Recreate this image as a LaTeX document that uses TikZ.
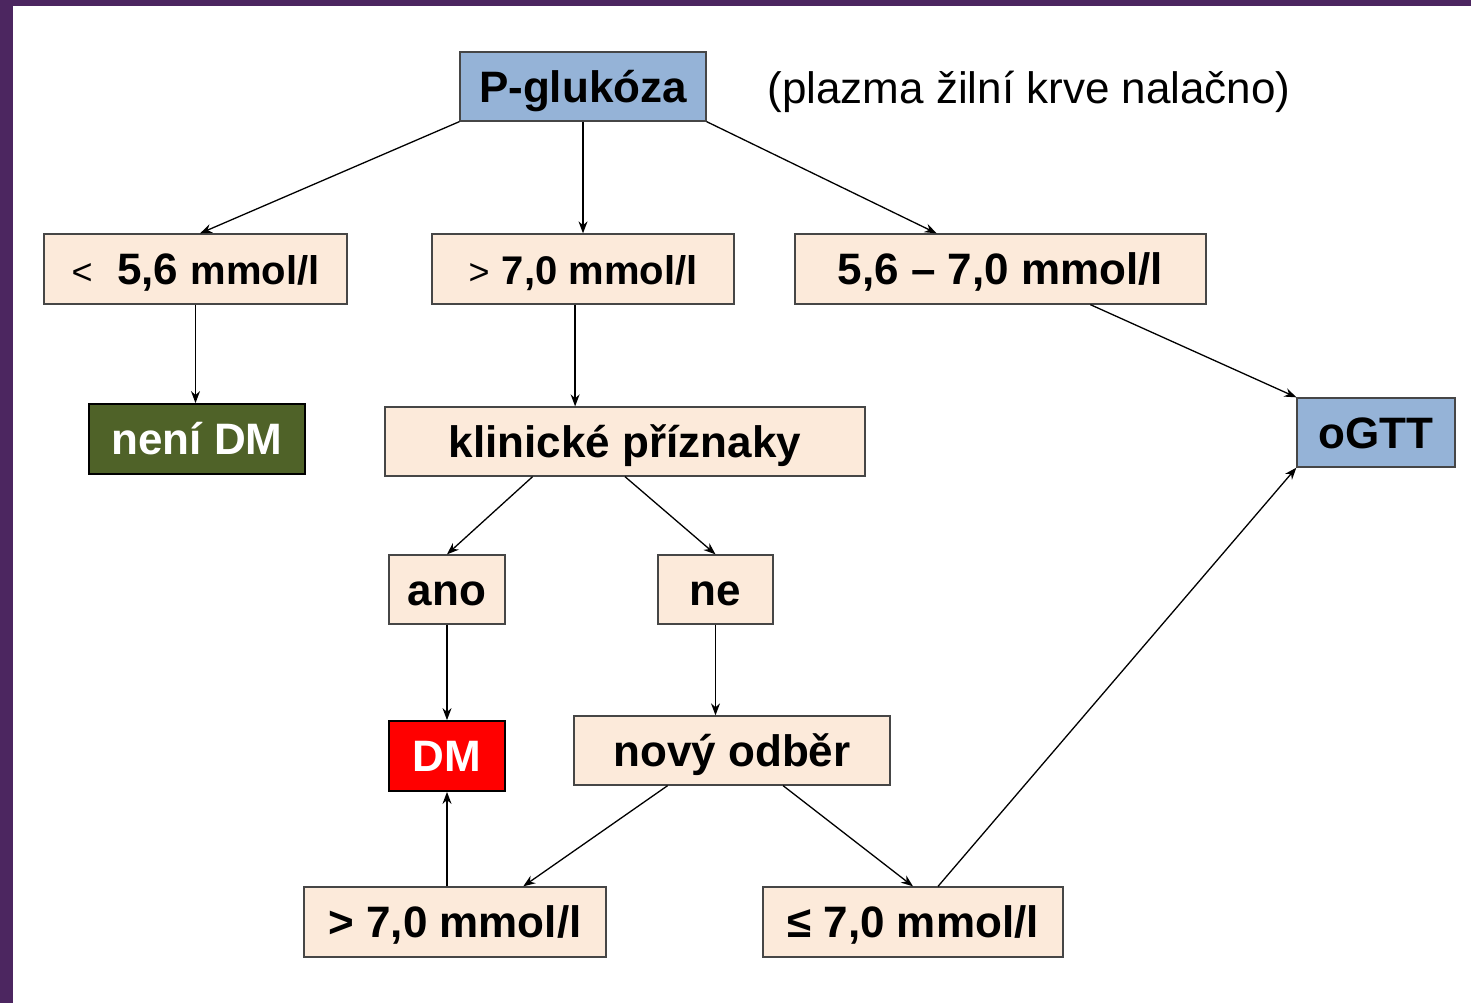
\documentclass[tikz,border=0pt]{standalone}
\usepackage{fontspec}
\setmainfont{Liberation Sans}
\usetikzlibrary{calc,arrows.meta}
\definecolor{peach}{RGB}{252,234,218}
\definecolor{bluebox}{RGB}{149,179,215}
\definecolor{greenbox}{RGB}{79,98,40}
\definecolor{redbox}{RGB}{255,0,0}
\definecolor{purpleband}{RGB}{76,38,96}
\definecolor{edge}{RGB}{70,70,70}
\newcommand{\fbig}{\fontsize{44}{50}\selectfont}
\newcommand{\fmid}{\fontsize{40}{46}\selectfont}
\newcommand{\fsml}{\fontsize{36}{42}\selectfont}
\begin{document}
\begin{tikzpicture}[x=1pt,y=-1pt,
  box/.style={draw=edge, line width=1.3pt, fill=peach, inner sep=0pt,
    text height=31.5pt, text depth=0pt,
    font=\fbig\bfseries, text=black, anchor=center},
  bluenode/.style={box, fill=bluebox},
  greennode/.style={box, fill=greenbox, draw=black, line width=1.8pt, text=white},
  rednode/.style={box, fill=redbox, draw=black, line width=1.8pt, text=white},
  conn/.style={draw=black, line width=1.3pt, -{Stealth[length=12pt,width=9pt]}}
]
% background and band
\fill[white] (0,0) rectangle (1471,1003);
\fill[purpleband] (0,0) rectangle (1471,6);
\fill[purpleband] (0,0) rectangle (13,1003);
\useasboundingbox (0,0) rectangle (1471,1003);

\node[bluenode, minimum width=246pt, minimum height=69pt] (pg) at (583,86.5) {P-glukóza};
\node[font=\fbig, anchor=center, text height=31.5pt, text depth=0pt, inner sep=0pt] (note) at (1029,88) {(plazma žilní krve nalačno)};

\node[box, minimum width=303pt, minimum height=70pt] (lt) at (195.5,269)
  {{\fsml\mdseries <}\ \ 5,6 {\fmid mmol/l}};
\node[box, minimum width=302pt, minimum height=70pt] (gt) at (583,269)
  {{\fsml\mdseries >} {\fmid 7,0 mmol/l}};
\node[box, minimum width=411pt, minimum height=70pt] (mid) at (1000.5,269)
  {5,6 – 7,0 mmol/l};

\node[greennode, minimum width=216pt, minimum height=70pt] (nodm) at (197,439) {není DM};
\node[box, minimum width=480pt, minimum height=69pt] (kp) at (625,441.5) {klinické příznaky};
\node[bluenode, minimum width=158pt, minimum height=69pt] (ogtt) at (1376,432.5) {oGTT};

\node[box, minimum width=116pt, minimum height=69pt] (ano) at (447,589.5) {ano};
\node[box, minimum width=115pt, minimum height=69pt] (ne) at (715.5,589.5) {ne};

\node[rednode, minimum width=116pt, minimum height=70pt] (dm) at (447,756) {DM};
\node[box, minimum width=316pt, minimum height=69pt] (novy) at (732,750.5) {nový odběr};

\node[box, minimum width=302pt, minimum height=70pt] (gt2) at (455,922) {> 7,0 mmol/l};
\node[box, minimum width=300pt, minimum height=70pt] (le) at (913,922) {≤ 7,0 mmol/l};

% connectors
\draw[conn] (pg.south west) -- ($(lt.north west)!0.515!(lt.north east)$);
\draw[conn] (pg.south) -- (pg.south |- gt.north);
\draw[conn] (pg.south east) -- ($(mid.north west)!0.345!(mid.north east)$);
\coordinate (ltb) at ($(lt.south west)!0.5!(lt.south east)$);
\draw[conn] (ltb) -- (ltb |- nodm.north);
\coordinate (gtb) at ($(gt.south west)!0.474!(gt.south east)$);
\draw[conn] (gtb) -- (gtb |- kp.north);
\draw[conn] ($(mid.south west)!0.718!(mid.south east)$) -- (ogtt.north west);
\draw[conn] ($(kp.south west)!0.308!(kp.south east)$) -- (ano.north);
\draw[conn] (kp.south) -- (ne.north);
\draw[conn] (ano.south) -- (dm.north);
\draw[conn] (ne.south) -- (ne.south |- novy.north);
\draw[conn] ($(novy.south west)!0.297!(novy.south east)$) -- ($(gt2.north west)!0.725!(gt2.north east)$);
\draw[conn] ($(novy.south west)!0.661!(novy.south east)$) -- (le.north);
\draw[conn] (dm.south |- gt2.north) -- (dm.south);
\draw[conn] ($(le.north west)!0.583!(le.north east)$) -- (ogtt.south west);
\end{tikzpicture}
\end{document}
